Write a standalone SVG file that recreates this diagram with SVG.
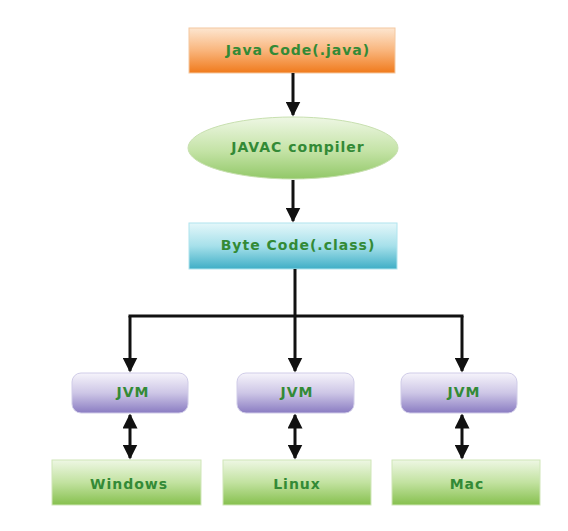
<svg xmlns="http://www.w3.org/2000/svg" width="568" height="531" viewBox="0 0 568 531">
<defs>
<linearGradient id="gOrange" x1="0" y1="0" x2="0" y2="1"><stop offset="0" stop-color="#fde6d0"/><stop offset="0.5" stop-color="#f9b57c"/><stop offset="1" stop-color="#f07a1c"/></linearGradient>
<linearGradient id="gEll" x1="0" y1="0" x2="0" y2="1"><stop offset="0" stop-color="#eef7e4"/><stop offset="0.55" stop-color="#c4e3a6"/><stop offset="1" stop-color="#92c868"/></linearGradient>
<linearGradient id="gCyan" x1="0" y1="0" x2="0" y2="1"><stop offset="0" stop-color="#e4f7fa"/><stop offset="0.5" stop-color="#a6e0ea"/><stop offset="1" stop-color="#3eaec6"/></linearGradient>
<linearGradient id="gPurple" x1="0" y1="0" x2="0" y2="1"><stop offset="0" stop-color="#f6f4fb"/><stop offset="0.5" stop-color="#cdc6e6"/><stop offset="1" stop-color="#8a7cc2"/></linearGradient>
<linearGradient id="gGreen" x1="0" y1="0" x2="0" y2="1"><stop offset="0" stop-color="#eef7e4"/><stop offset="0.5" stop-color="#c2e2a0"/><stop offset="1" stop-color="#86c04e"/></linearGradient>
<marker id="ah" viewBox="0 0 10 10" refX="9" refY="5" markerWidth="5" markerHeight="5" orient="auto-start-reverse" markerUnits="strokeWidth"><path d="M0,0 L10,5 L0,10 z" fill="#111"/></marker>
</defs>
<style>
text{font-family:"DejaVu Sans","Liberation Sans",sans-serif;font-weight:bold;font-size:14px;letter-spacing:1px;fill:#338a36;text-anchor:middle;dominant-baseline:central}
.ln{stroke:#111;stroke-width:3;fill:none}
</style>
<rect width="568" height="531" fill="#ffffff"/>
<g id="java-code"><rect x="189" y="28" width="206" height="45" fill="url(#gOrange)" stroke="#f4c8a0" stroke-width="1"/><text x="298" y="50">Java Code(.java)</text></g>
<g id="javac"><ellipse cx="293" cy="148" rx="105" ry="31" fill="url(#gEll)" stroke="#c8e0b0" stroke-width="1"/><text x="298" y="147">JAVAC compiler</text></g>
<g id="byte-code"><rect x="189" y="223" width="208" height="46" fill="url(#gCyan)" stroke="#b0e4ee" stroke-width="1"/><text x="298" y="245">Byte Code(.class)</text></g>
<g id="jvm1"><rect x="72" y="373" width="116" height="40" rx="9" fill="url(#gPurple)" stroke="#d0cce8" stroke-width="1"/><text x="133" y="392">JVM</text></g>
<g id="jvm2"><rect x="237" y="373" width="117" height="40" rx="9" fill="url(#gPurple)" stroke="#d0cce8" stroke-width="1"/><text x="297" y="392">JVM</text></g>
<g id="jvm3"><rect x="401" y="373" width="116" height="40" rx="9" fill="url(#gPurple)" stroke="#d0cce8" stroke-width="1"/><text x="464" y="392">JVM</text></g>
<g id="windows"><rect x="52" y="460" width="149" height="45" fill="url(#gGreen)" stroke="#cfe6b8" stroke-width="1"/><text x="129" y="484">Windows</text></g>
<g id="linux"><rect x="223" y="460" width="148" height="45" fill="url(#gGreen)" stroke="#cfe6b8" stroke-width="1"/><text x="297" y="484">Linux</text></g>
<g id="mac"><rect x="392" y="460" width="148" height="45" fill="url(#gGreen)" stroke="#cfe6b8" stroke-width="1"/><text x="467" y="484">Mac</text></g>
<g id="connectors">
<line class="ln" x1="293" y1="73" x2="293" y2="115" marker-end="url(#ah)"/>
<line class="ln" x1="293" y1="180" x2="293" y2="221" marker-end="url(#ah)"/>
<line class="ln" x1="295" y1="269" x2="295" y2="316"/>
<line class="ln" x1="128.5" y1="316" x2="463.5" y2="316"/>
<line class="ln" x1="130" y1="316" x2="130" y2="371" marker-end="url(#ah)"/>
<line class="ln" x1="295" y1="316" x2="295" y2="371" marker-end="url(#ah)"/>
<line class="ln" x1="462" y1="316" x2="462" y2="371" marker-end="url(#ah)"/>
<line class="ln" x1="130" y1="415" x2="130" y2="458" marker-start="url(#ah)" marker-end="url(#ah)"/>
<line class="ln" x1="295" y1="415" x2="295" y2="458" marker-start="url(#ah)" marker-end="url(#ah)"/>
<line class="ln" x1="462" y1="415" x2="462" y2="458" marker-start="url(#ah)" marker-end="url(#ah)"/>
</g>
</svg>
